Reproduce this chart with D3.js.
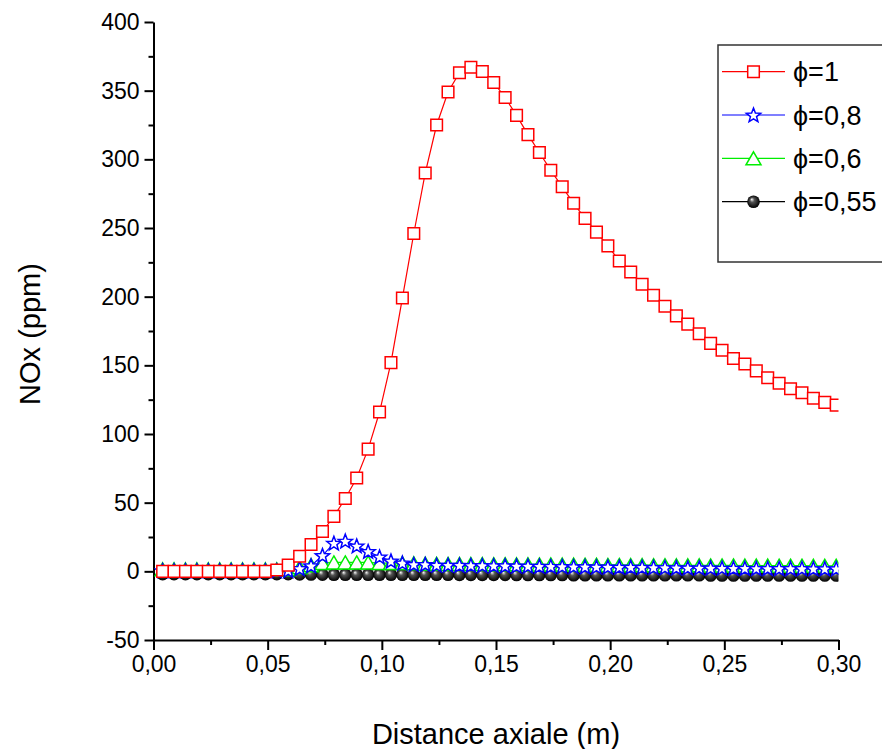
<!DOCTYPE html>
<html><head><meta charset="utf-8">
<script src="https://cdn.jsdelivr.net/npm/d3@7"></script>
<style>body{margin:0;background:#fff;overflow:hidden}svg{display:block}</style>
</head><body>
<script>
const xValues = [0.004,0.009,0.014,0.019,0.024,0.029,0.034,0.039,0.044,0.049,0.054,0.059,0.064,0.069,0.074,0.079,0.084,0.089,0.094,0.099,0.104,0.109,0.114,0.119,0.124,0.129,0.134,0.139,0.144,0.149,0.154,0.159,0.164,0.169,0.174,0.179,0.184,0.189,0.194,0.199,0.204,0.209,0.214,0.219,0.224,0.229,0.234,0.239,0.244,0.249,0.254,0.259,0.264,0.269,0.274,0.279,0.284,0.289,0.294,0.299];
const phi1 = [0,0,0,0,0,0,0,0,0,0,1,4.5,11,19.5,29,40,53,68,89,116,152,199,246,290,325,349,363,367,364,356,345,332,318,305,292,280,268,257,247,237,226,218,209,201,193,186,180,173,166,161,155,151,146,141,137,133,130,126,123,121];
const phi08 = [0.5,0.5,0.5,0.5,0.5,0.5,0.5,0.5,0.5,0.5,0.5,0.5,2,4,11.5,20.5,22,18.5,14.5,10.5,7.5,6,5,5,4.5,4.5,4.4,4.3,4.2,4.1,4.0,3.9,3.8,3.7,3.6,3.5,3.4,3.3,3.2,3.1,3.0,3.0,2.9,2.8,2.7,2.6,2.5,2.5,2.4,2.3,2.2,2.2,2.1,2.1,2.0,2.0,2.0,1.9,1.9,1.9];
const phi06 = [1.5,1.5,1.5,1.5,1.5,1.5,1.5,1.5,1.5,1.5,1.5,1.5,3,4.5,6,6.5,6.5,6.5,6.5,6,6,6,5.8,5.6,5.5,5.4,5.4,5.3,5.3,5.2,5.2,5.1,5.1,5.0,5.0,4.9,4.9,4.8,4.8,4.7,4.7,4.6,4.6,4.5,4.5,4.4,4.4,4.4,4.3,4.3,4.3,4.2,4.2,4.2,4.1,4.1,4.1,4.0,4.0,4.0];
const phi055 = [-2,-2,-2,-2,-2,-2,-2,-2,-2,-2,-2,-2,-2.2,-2.3,-2.4,-2.5,-2.5,-2.5,-2.5,-2.5,-2.5,-2.5,-2.5,-2.5,-2.5,-2.5,-2.6,-2.6,-2.6,-2.6,-2.6,-2.7,-2.7,-2.7,-2.7,-2.7,-2.8,-2.8,-2.8,-2.8,-2.8,-2.8,-2.9,-2.9,-2.9,-2.9,-2.9,-2.9,-3,-3,-3,-3,-3,-3,-3,-3,-3,-3,-3,-3];
const xTicks = [0,0.05,0.10,0.15,0.20,0.25,0.30];
const xTickLabels = ["0,00","0,05","0,10","0,15","0,20","0,25","0,30"];
const yTicks = [-50,0,50,100,150,200,250,300,350,400];
const yTickLabels = ["-50","0","50","100","150","200","250","300","350","400"];
const legendLabels = ["ϕ=1","ϕ=0,8","ϕ=0,6","ϕ=0,55"];

const W = 882, H = 749;
const L = 153.5, R = 838.5, T = 22, B = 640;
const svg = d3.select("body").append("svg").attr("width", W).attr("height", H);
const defs = svg.append("defs");
const grad = defs.append("radialGradient").attr("id","ball").attr("cx","0.5").attr("cy","0.5").attr("r","0.5").attr("fx","0.35").attr("fy","0.3");
grad.append("stop").attr("offset","0").attr("stop-color","#ffffff");
grad.append("stop").attr("offset","0.35").attr("stop-color","#555");
grad.append("stop").attr("offset","1").attr("stop-color","#000");
defs.append("clipPath").attr("id","plot").append("rect").attr("x",L).attr("y",0).attr("width",R-L).attr("height",B);

const x = d3.scaleLinear().domain([0,0.30]).range([L,R]);
const y = d3.scaleLinear().domain([-50,400]).range([B,T]);
const font = "'Liberation Sans', Arial, sans-serif";

// axes
const xAxis = d3.axisBottom(x).tickValues(xTicks).tickFormat((d,i)=>xTickLabels[i]).tickSizeInner(10).tickSizeOuter(0).tickPadding(6);
const gx = svg.append("g").attr("transform",`translate(0,${B})`).call(xAxis);
const xMinor = d3.axisBottom(x).tickValues(d3.range(0.025,0.30,0.05)).tickFormat("").tickSizeInner(5).tickSizeOuter(0);
const gxm = svg.append("g").attr("transform",`translate(0,${B})`).call(xMinor);
const yAxis = d3.axisLeft(y).tickValues(yTicks).tickFormat((d,i)=>yTickLabels[i]).tickSizeInner(9).tickSizeOuter(0).tickPadding(5);
const gy = svg.append("g").attr("transform",`translate(${L},0)`).call(yAxis);
const yMinor = d3.axisLeft(y).tickValues(d3.range(-25,400,50)).tickFormat("").tickSizeInner(5).tickSizeOuter(0);
const gym = svg.append("g").attr("transform",`translate(${L},0)`).call(yMinor);
[gx,gxm,gy,gym].forEach(g=>{g.selectAll("path,line").attr("stroke","#000").attr("stroke-width",2);});
gx.selectAll("text").attr("font-family",font).attr("font-size",23).attr("fill","#000");
gy.selectAll("text").attr("font-family",font).attr("font-size",23).attr("fill","#000");
gxm.select("path").remove(); gym.select("path").remove();

svg.append("text").attr("x",(L+R)/2).attr("y",744).attr("text-anchor","middle").attr("font-family",font).attr("font-size",29).text("Distance axiale (m)");
svg.append("text").attr("transform",`translate(40,${(T+B)/2+3}) rotate(-90)`).attr("text-anchor","middle").attr("font-family",font).attr("font-size",29).text("NOx (ppm)");

// markers
const starPath = (() => { const pts=[]; for(let k=0;k<10;k++){const r=k%2?3.2:7.5; const a=-Math.PI/2+k*Math.PI/5; pts.push([r*Math.cos(a), r*Math.sin(a)+0.6]);} return "M"+pts.map(p=>p.join(",")).join("L")+"Z"; })();
const triPath = "M0,-6.5L7.5,6.5L-7.5,6.5Z";
const sqPath = "M-5.8,-5.8H5.8V5.8H-5.8Z";
const series = [
  {vals: phi055, color:"#000000", kind:"ball"},
  {vals: phi06, color:"#00ee00", kind:"tri"},
  {vals: phi08, color:"#0000ff", kind:"star"},
  {vals: phi1, color:"#ff0000", kind:"sq"}
];
const plot = svg.append("g").attr("clip-path","url(#plot)");
function drawMarker(g, kind, color){
  if(kind==="ball"){ g.append("circle").attr("r",6.3).attr("fill","url(#ball)").attr("stroke","none"); }
  else { g.append("path").attr("d", kind==="tri"?triPath:kind==="star"?starPath:sqPath).attr("fill","#fff").attr("stroke",color).attr("stroke-width",1.5).attr("stroke-linejoin","miter"); }
}
const line = d3.line().x(d=>x(d[0])).y(d=>y(d[1]));
series.forEach(s=>{
  const pts = xValues.map((xv,i)=>[xv,s.vals[i]]);
  plot.append("path").datum(pts).attr("d",line).attr("fill","none").attr("stroke",s.color).attr("stroke-width",1.2);
  plot.selectAll(null).data(pts).enter().append("g").attr("transform",d=>`translate(${x(d[0])},${y(d[1])})`).each(function(){drawMarker(d3.select(this), s.kind, s.color);});
});

// legend
const lg = svg.append("g");
lg.append("rect").attr("x",718).attr("y",45).attr("width",300).attr("height",217).attr("fill","#fff").attr("stroke","#333").attr("stroke-width",1.5);
const rows = [71.7,115,158.3,201.7];
const legSeries = [series[3],series[2],series[1],series[0]];
legSeries.forEach((s,i)=>{
  const yy = rows[i];
  lg.append("line").attr("x1",722).attr("x2",785).attr("y1",yy).attr("y2",yy).attr("stroke",s.color).attr("stroke-width",1.2);
  const m = lg.append("g").attr("transform",`translate(753.5,${yy})`);
  drawMarker(m, s.kind, s.color);
  lg.append("text").attr("x",793).attr("y",yy+9.5).attr("font-family",font).attr("font-size",27).attr("fill","#000").text(legendLabels[i]);
});
</script>
</body></html>
